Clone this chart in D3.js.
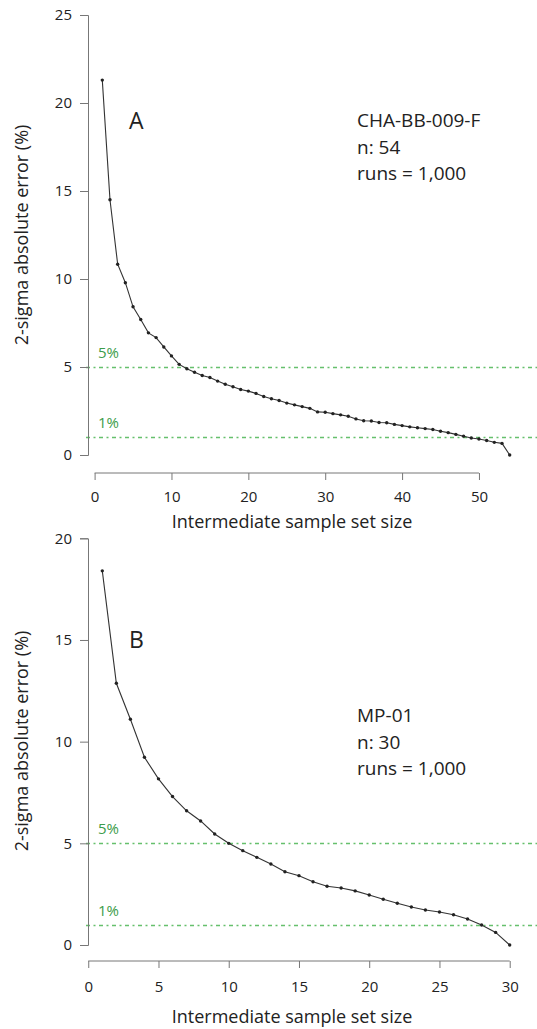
<html>
  <script src="https://d3js.org/d3.v7.min.js"></script>
  <style>
    body,
    html {
      margin: 0;
      padding: 0;
      background: white;
    }
    text {
      font-family: "Open Sans", sans-serif;
    }
  </style>
  <body>
    <svg id="chart" width="537" height="1029"></svg>
    <script>
      // panel A: CHA-BB-009-F, n = 54
      const sizesA = [
        1, 2, 3, 4, 5, 6, 7, 8, 9, 10, 11, 12, 13, 14, 15, 16, 17, 18, 19, 20,
        21, 22, 23, 24, 25, 26, 27, 28, 29, 30, 31, 32, 33, 34, 35, 36, 37, 38,
        39, 40, 41, 42, 43, 44, 45, 46, 47, 48, 49, 50, 51, 52, 53, 54,
      ];
      const errorA = [
        21.3, 14.5, 10.84, 9.79, 8.42, 7.7, 6.94, 6.67, 6.14, 5.63, 5.15, 4.9,
        4.7, 4.52, 4.4, 4.2, 4.02, 3.88, 3.72, 3.63, 3.5, 3.32, 3.2, 3.1, 2.95,
        2.85, 2.75, 2.65, 2.45, 2.43, 2.35, 2.28, 2.2, 2.05, 1.95, 1.93, 1.85,
        1.83, 1.74, 1.67, 1.6, 1.55, 1.5, 1.45, 1.35, 1.27, 1.17, 1.07, 0.97,
        0.91, 0.82, 0.72, 0.66, 0.0,
      ];
      const xTicksA = [0, 10, 20, 30, 40, 50];
      const yTicksA = [0, 5, 10, 15, 20, 25];
      const infoA = ["CHA-BB-009-F", "n: 54", "runs = 1,000"];

      // panel B: MP-01, n = 30
      const sizesB = [
        1, 2, 3, 4, 5, 6, 7, 8, 9, 10, 11, 12, 13, 14, 15, 16, 17, 18, 19, 20,
        21, 22, 23, 24, 25, 26, 27, 28, 29, 30,
      ];
      const errorB = [
        18.4, 12.87, 11.1, 9.23, 8.17, 7.3, 6.6, 6.1, 5.46, 5.0, 4.64, 4.31,
        3.98, 3.6, 3.41, 3.11, 2.89, 2.8, 2.66, 2.46, 2.25, 2.05, 1.87, 1.72,
        1.62, 1.49, 1.28, 0.98, 0.62, 0.0,
      ];
      const xTicksB = [0, 5, 10, 15, 20, 25, 30];
      const yTicksB = [0, 5, 10, 15, 20];
      const infoB = ["MP-01", "n: 30", "runs = 1,000"];

      const thresholds = [5, 1];
      const thresholdLabels = ["5%", "1%"];

      const svg = d3.select("#chart");
      const green = "#66c06c";

      const drawPanel = (p) => {
        const g = svg.append("g");
        const x = d3.scaleLinear().domain(p.xDomain).range([86, 526]);
        const y = d3.scaleLinear().domain(p.yDomain).range(p.yRange);

        // threshold lines (snapped to the pixel grid so they stay green)
        thresholds.forEach((t, i) => {
          const ty = Math.round(y(t)) + 0.5;
          g.append("line")
            .attr("x1", 86)
            .attr("x2", 537)
            .attr("y1", ty)
            .attr("y2", ty)
            .attr("stroke", green)
            .attr("stroke-width", 1.5)
            .attr("stroke-dasharray", "4,3.5,2,3.5");
          g.append("text")
            .attr("x", 98)
            .attr("y", y(t) - 9)
            .attr("fill", "#3c9c4a")
            .style("font-size", "15px")
            .text(thresholdLabels[i]);
        });

        // y axis
        const yAxis = g
          .append("g")
          .attr("transform", "translate(88,0)")
          .call(
            d3.axisLeft(y).tickValues(p.yTicks).tickSize(8).tickPadding(8)
          );
        yAxis.selectAll("path, line").attr("stroke", "#777");
        yAxis
          .selectAll("text")
          .attr("fill", "#222")
          .style("font-size", "15px")
          .style("font-family", "Open Sans");

        // x axis
        const xAxis = g
          .append("g")
          .attr("transform", `translate(0,${p.xAxisY})`)
          .call(
            d3
              .axisBottom(x)
              .tickValues(p.xTicks)
              .tickSize(7)
              .tickPadding(p.xPad)
          );
        xAxis.select(".domain").remove();
        xAxis
          .append("line")
          .attr("x1", x(p.xTicks[0]))
          .attr("x2", x(p.xTicks[p.xTicks.length - 1]))
          .attr("stroke", "#777");
        xAxis.selectAll("line").attr("stroke", "#777");
        xAxis
          .selectAll("text")
          .attr("fill", "#222")
          .style("font-size", "15px")
          .style("font-family", "Open Sans");

        // axis titles
        g.append("text")
          .attr("x", 292)
          .attr("y", p.xTitleY)
          .attr("text-anchor", "middle")
          .attr("fill", "#222")
          .style("font-size", "18px")
          .text("Intermediate sample set size");
        g.append("text")
          .attr("transform", `translate(28,${p.yTitleY}) rotate(-90)`)
          .attr("text-anchor", "middle")
          .attr("fill", "#222")
          .style("font-size", "18px")
          .text("2-sigma absolute error (%)");

        // curve
        const pts = p.sizes.map((s, i) => [s, p.values[i]]);
        g.append("path")
          .datum(pts)
          .attr("fill", "none")
          .attr("stroke", "#333")
          .attr("stroke-width", 1.1)
          .attr(
            "d",
            d3
              .line()
              .x((d) => x(d[0]))
              .y((d) => y(d[1]))
          );
        g.selectAll("circle")
          .data(pts)
          .enter()
          .append("circle")
          .attr("cx", (d) => x(d[0]))
          .attr("cy", (d) => y(d[1]))
          .attr("r", 1.7)
          .attr("fill", "#222");

        // panel letter and info
        g.append("text")
          .attr("x", 129)
          .attr("y", p.letterY)
          .attr("fill", "#222")
          .style("font-size", "23px")
          .text(p.letter);
        p.info.forEach((t, i) => {
          g.append("text")
            .attr("x", 357)
            .attr("y", p.infoY + i * 26.5)
            .attr("fill", "#222")
            .style("font-size", "19px")
            .text(t);
        });
      };

      drawPanel({
        sizes: sizesA,
        values: errorA,
        xDomain: [-1.12, 56.12],
        yDomain: [0, 25],
        yRange: [455, 15],
        xTicks: xTicksA,
        yTicks: yTicksA,
        xAxisY: 473,
        xPad: 11,
        xTitleY: 528,
        yTitleY: 235,
        letter: "A",
        letterY: 129,
        info: infoA,
        infoY: 127,
      });

      drawPanel({
        sizes: sizesB,
        values: errorB,
        xDomain: [-0.16, 31.16],
        yDomain: [0, 20],
        yRange: [945, 538.3],
        xTicks: xTicksB,
        yTicks: yTicksB,
        xAxisY: 961,
        xPad: 13,
        xTitleY: 1023,
        yTitleY: 741,
        letter: "B",
        letterY: 648,
        info: infoB,
        infoY: 722,
      });
    </script>
  </body>
</html>
